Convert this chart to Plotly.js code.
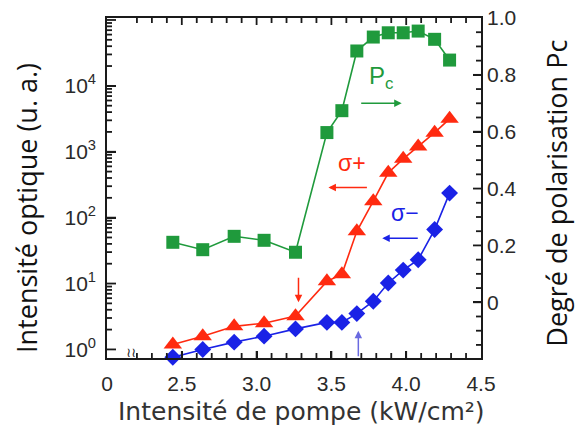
<!DOCTYPE html>
<html><head><meta charset="utf-8">
<script src="https://cdn.plot.ly/plotly-3.0.1.min.js"></script>
<style>html,body{margin:0;padding:0;background:#fff}</style>
</head><body><div id="chart" style="width:575px;height:432px"></div>
<script>
// Pump intensity (kW/cm²)
const xPump = [2.44, 2.64, 2.85, 3.05, 3.26, 3.47, 3.57, 3.67, 3.78, 3.88, 3.98, 4.08, 4.19, 4.29];
// Optical intensity σ+ (a.u.)
const sigmaPlus = [1.19, 1.59, 2.24, 2.5, 3.2, 10.8, 13.8, 62, 178, 480, 780, 1200, 1950, 3160];
// Optical intensity σ− (a.u.)
const sigmaMinus = [0.76, 1.0, 1.29, 1.59, 2.05, 2.57, 2.57, 3.5, 5.4, 10.2, 16, 23, 66, 236];
// Degree of polarisation Pc
const pc = [0.211, 0.185, 0.232, 0.218, 0.176, 0.597, 0.674, 0.884, 0.933, 0.948, 0.948, 0.954, 0.925, 0.852];

const xTickVals = [2.0, 2.5, 3.0, 3.5, 4.0, 4.5];
const xTickText = ['0', '2.5', '3.0', '3.5', '4.0', '4.5'];
const yTickVals = [1, 10, 100, 1000, 10000];
const yTickText = ['10<sup>0</sup>', '10<sup>1</sup>', '10<sup>2</sup>', '10<sup>3</sup>', '10<sup>4</sup>'];
const y2TickVals = [0, 0.2, 0.4, 0.6, 0.8, 1.0];
const y2TickText = ['0', '0.2', '0.4', '0.6', '0.8', '1.0'];

const GREEN = '#1f9a3c', RED = '#ff2a10', BLUE = '#1a22e6', AX = '#1a1a1a';
const X_RANGE = [2.0, 4.5], Y_RANGE = [-0.13, 5.03], Y2_RANGE = [-0.196, 1.0];
const PLOT_W = 374, PLOT_H = 340;

// tick marks drawn as shapes (axis decoration)
const xPerPx = (X_RANGE[1] - X_RANGE[0]) / PLOT_W;
const y2PerPx = (Y2_RANGE[1] - Y2_RANGE[0]) / PLOT_H;
const tickLine = {color: AX, width: 1.8};
const shapes = [];
const xTick = (v, len) => {
  shapes.push({type: 'line', xref: 'x', yref: 'y2', x0: v, x1: v, y0: Y2_RANGE[0], y1: Y2_RANGE[0] + len * y2PerPx, line: tickLine});
  shapes.push({type: 'line', xref: 'x', yref: 'y2', x0: v, x1: v, y0: Y2_RANGE[1], y1: Y2_RANGE[1] - len * y2PerPx, line: tickLine});
};
const yTick = (v, len) => shapes.push({type: 'line', xref: 'x', yref: 'y', x0: X_RANGE[0], x1: X_RANGE[0] + len * xPerPx, y0: v, y1: v, line: tickLine});
const y2Tick = (v, len) => shapes.push({type: 'line', xref: 'x', yref: 'y2', x0: X_RANGE[1], x1: X_RANGE[1] - len * xPerPx, y0: v, y1: v, line: tickLine});

for (let i = 22; i <= 44; i++) xTick(i / 10, i % 5 === 0 ? 7 : 5);
for (let d = 1; d <= 100000; d *= 10) {
  yTick(d, 9);
  if (d < 100000) for (let k = 2; k <= 9; k++) yTick(k * d, 5);
}
for (let i = -3; i <= 19; i++) y2Tick(i * 0.05, i % 4 === 0 ? 8 : 5);

const tickFont = {family: 'Liberation Sans, Arial, sans-serif', size: 21, color: '#2a2a2a'};

const traces = [
  {x: xPump, y: pc, yaxis: 'y2', mode: 'lines+markers', name: 'Pc', cliponaxis: false,
   line: {color: GREEN, width: 1.6}, marker: {symbol: 'square', size: 13, color: GREEN}},
  {x: xPump, y: sigmaPlus, mode: 'lines+markers', name: 'σ+', cliponaxis: false,
   line: {color: RED, width: 1.6}, marker: {symbol: 'triangle-up', size: 16, color: RED}},
  {x: xPump, y: sigmaMinus, mode: 'lines+markers', name: 'σ−', cliponaxis: false,
   line: {color: BLUE, width: 1.6}, marker: {symbol: 'diamond', size: 13, color: BLUE}}
];

const arrow = (x, y, ax, ay, color) => ({x, y, xref: 'x', yref: 'y2', ax, ay, axref: 'pixel', ayref: 'pixel',
  showarrow: true, arrowhead: 2, arrowsize: 1, arrowwidth: 1.5, arrowcolor: color, text: ''});

const layout = {
  width: 575, height: 432,
  margin: {l: 107, r: 94, t: 18, b: 74},
  paper_bgcolor: '#fff', plot_bgcolor: '#fff',
  showlegend: false,
  shapes: shapes,
  xaxis: {range: X_RANGE, tickmode: 'array', tickvals: xTickVals, ticktext: xTickText,
    ticks: 'inside', ticklen: 7, tickwidth: 1.8, tickcolor: AX, ticklabelstandoff: 6,
    showline: true, linecolor: AX, linewidth: 1.8, mirror: true,
    showgrid: false, zeroline: false, tickfont: tickFont},
  yaxis: {type: 'log', range: Y_RANGE, tickmode: 'array', tickvals: yTickVals, ticktext: yTickText,
    ticks: 'inside', ticklen: 9, tickwidth: 1.8, tickcolor: AX, ticklabelstandoff: 5,
    showline: true, linecolor: AX, linewidth: 1.8,
    showgrid: false, zeroline: false, tickfont: tickFont},
  yaxis2: {overlaying: 'y', side: 'right', range: Y2_RANGE, tickmode: 'array', tickvals: y2TickVals, ticktext: y2TickText,
    ticks: 'inside', ticklen: 8, tickwidth: 1.8, tickcolor: AX,
    showline: true, linecolor: AX, linewidth: 1.8,
    showgrid: false, zeroline: false, tickfont: tickFont},
  annotations: [
    {text: 'Intensité optique (u. a.)', xref: 'paper', yref: 'paper', x: -0.215, y: 0.44, xanchor: 'center', yanchor: 'middle', textangle: -90,
     showarrow: false, font: {family: 'Open Sans, sans-serif', size: 27, color: '#111'}},
    {text: 'Degré de polarisation Pc', xref: 'paper', yref: 'paper', x: 1.203, y: 0.486, xanchor: 'center', yanchor: 'middle', textangle: -90,
     showarrow: false, font: {family: 'Open Sans, sans-serif', size: 27, color: '#111'}},
    {text: 'Intensité de pompe (kW/cm²)', xref: 'paper', yref: 'paper', x: 0.521, y: -0.156, xanchor: 'center', yanchor: 'middle',
     showarrow: false, font: {family: 'DejaVu Sans, sans-serif', size: 25, color: '#333'}},
    {text: 'P<sub>c</sub>', xref: 'x', yref: 'y2', x: 3.83, y: 0.79, showarrow: false,
     font: {family: 'Liberation Sans, Arial, sans-serif', size: 24, color: GREEN}},
    {text: 'σ+', xref: 'x', yref: 'y2', x: 3.635, y: 0.49, showarrow: false,
     font: {family: 'Liberation Sans, Arial, sans-serif', size: 23, color: RED}},
    {text: 'σ−', xref: 'x', yref: 'y2', x: 3.99, y: 0.315, showarrow: false,
     font: {family: 'Liberation Sans, Arial, sans-serif', size: 23, color: BLUE}},
    arrow(3.97, 0.70, -42, 0, GREEN),
    arrow(3.48, 0.404, 40, 0, RED),
    arrow(3.84, 0.225, 37, 0, BLUE),
    arrow(3.28, 0.0, 0, -26, RED),
    arrow(3.68, -0.10, 0, 27, '#6a6ae0'),
    {text: '≀≀', xref: 'paper', yref: 'paper', x: 0.045, y: -0.012, showarrow: false,
     font: {family: 'DejaVu Sans, sans-serif', size: 13, color: '#222'}}
  ]
};

Plotly.newPlot('chart', traces, layout, {displayModeBar: false, staticPlot: true});
</script></body></html>
